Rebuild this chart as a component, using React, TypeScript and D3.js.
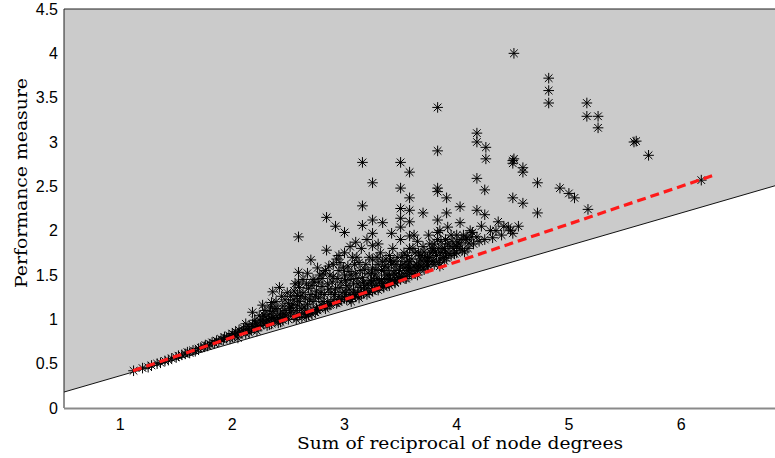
import React from "react";
import * as d3 from "d3";

const xTicks = [1, 2, 3, 4, 5, 6];
const yTicks = [0, 0.5, 1, 1.5, 2, 2.5, 3, 3.5, 4, 4.5];
const xLabel = "Sum of reciprocal of node degrees";
const yLabel = "Performance measure";

// lower bound of the feasible (gray) region
const boundary: [number, number][] = [[0.5, 0.18], [7.5, 2.75]];
// red dashed fitted line
const fitLine: [number, number][] = [[1.115, 0.42], [6.28, 2.62]];

// scatter: [sum of reciprocal degrees, performance]
const points: [number, number][] = [
  [1.12, 0.42], [1.2, 0.45], [1.25, 0.46], [1.28, 0.48], [1.33, 0.5], [1.36, 0.51], [1.4, 0.53], [1.43, 0.54],
  [1.46, 0.56], [1.5, 0.57], [1.52, 0.59], [1.55, 0.6], [1.58, 0.61], [1.6, 0.63], [1.62, 0.62], [1.65, 0.65],
  [1.67, 0.64], [1.7, 0.67], [1.72, 0.68], [1.75, 0.69], [1.76, 0.71], [1.78, 0.7], [1.8, 0.72], [1.82, 0.74],
  [1.84, 0.73], [1.86, 0.76], [1.88, 0.75], [1.9, 0.78], [1.92, 0.77], [1.93, 0.8], [1.95, 0.79], [1.97, 0.82],
  [1.98, 0.78], [2.0, 0.84], [2.0, 0.8], [2.02, 0.82], [2.03, 0.86], [2.05, 0.83], [2.06, 0.88], [2.08, 0.85],
  [2.1, 0.87], [2.1, 0.9], [2.12, 0.84], [2.14, 0.89], [2.15, 0.92], [2.17, 0.88], [2.18, 0.94], [2.18, 1.08],
  [2.2, 0.9], [2.21, 0.96], [2.23, 0.92], [2.25, 0.98], [2.25, 0.93], [2.27, 1.0], [2.27, 1.16], [2.28, 0.95],
  [2.3, 1.03], [2.3, 0.97], [2.32, 0.99], [2.33, 1.06], [2.35, 1.01], [2.35, 1.19], [2.36, 1.09], [2.36, 1.31],
  [2.38, 0.98], [2.4, 1.04], [2.4, 1.12], [2.42, 1.0], [2.42, 1.36], [2.43, 1.07], [2.45, 1.15], [2.45, 1.02],
  [2.47, 1.1], [2.48, 1.05], [2.5, 1.18], [2.5, 1.0], [2.52, 1.08], [2.53, 1.13], [2.55, 1.22], [2.55, 1.03],
  [2.57, 1.1], [2.58, 1.27], [2.58, 1.16], [2.59, 1.42], [2.59, 1.53], [2.59, 1.93], [2.6, 1.06], [2.6, 1.2],
  [2.62, 1.12], [2.63, 1.3], [2.65, 1.08], [2.65, 1.24], [2.67, 1.17], [2.67, 1.52], [2.68, 1.35], [2.7, 1.1],
  [2.7, 1.28], [2.7, 1.67], [2.72, 1.2], [2.73, 1.42], [2.75, 1.13], [2.75, 1.32], [2.77, 1.24], [2.78, 1.5],
  [2.8, 1.16], [2.8, 1.37], [2.82, 1.28], [2.83, 1.55], [2.84, 1.78], [2.84, 2.15], [2.85, 1.2], [2.85, 1.4],
  [2.86, 1.6], [2.88, 1.3], [2.9, 1.22], [2.9, 1.48], [2.92, 1.35], [2.92, 2.05], [2.93, 1.68], [2.95, 1.26],
  [2.95, 1.55], [2.97, 1.42], [2.98, 1.3], [3.0, 1.24], [3.0, 1.5], [3.0, 1.75], [3.0, 1.98], [3.02, 1.38],
  [3.03, 1.6], [3.05, 1.28], [3.05, 1.45], [3.07, 1.7], [3.08, 1.33], [3.1, 1.52], [3.1, 1.26], [3.1, 1.87],
  [3.12, 1.4], [3.13, 1.64], [3.15, 1.3], [3.15, 1.8], [3.16, 1.47], [3.16, 2.06], [3.16, 2.28], [3.16, 2.77],
  [3.18, 1.56], [3.2, 1.35], [3.2, 1.28], [3.22, 1.7], [3.23, 1.44], [3.25, 1.32], [3.25, 1.58], [3.25, 1.67],
  [3.25, 1.83], [3.25, 1.97], [3.25, 2.12], [3.25, 2.54], [3.27, 1.5], [3.28, 1.38], [3.3, 1.33], [3.3, 1.62],
  [3.32, 1.75], [3.33, 1.45], [3.34, 2.09], [3.35, 1.36], [3.35, 1.55], [3.37, 1.68], [3.38, 1.41], [3.4, 1.5],
  [3.4, 1.38], [3.42, 1.62], [3.42, 1.97], [3.43, 1.8], [3.45, 1.42], [3.45, 1.55], [3.47, 1.7], [3.48, 1.47],
  [3.5, 1.45], [3.5, 1.6], [3.5, 1.9], [3.5, 2.04], [3.5, 2.14], [3.5, 2.25], [3.5, 2.48], [3.5, 2.77],
  [3.52, 1.52], [3.53, 1.75], [3.55, 1.48], [3.55, 1.65], [3.57, 1.58], [3.58, 1.52], [3.58, 1.65], [3.58, 1.8],
  [3.58, 1.94], [3.58, 2.1], [3.58, 2.23], [3.58, 2.37], [3.58, 2.66], [3.6, 1.5], [3.62, 1.6], [3.63, 1.75],
  [3.65, 1.55], [3.65, 1.88], [3.67, 1.68], [3.68, 1.6], [3.7, 1.58], [3.7, 1.82], [3.7, 2.2], [3.72, 1.7],
  [3.73, 1.65], [3.75, 1.6], [3.75, 1.95], [3.77, 1.75], [3.78, 1.65], [3.79, 1.78], [3.8, 1.62], [3.8, 1.85],
  [3.82, 1.72], [3.83, 1.9], [3.83, 1.98], [3.83, 2.12], [3.83, 2.44], [3.83, 2.48], [3.83, 2.9], [3.83, 3.39],
  [3.85, 1.68], [3.85, 2.0], [3.87, 1.8], [3.88, 1.7], [3.9, 1.75], [3.9, 1.9], [3.91, 1.69], [3.91, 2.2],
  [3.91, 2.37], [3.92, 1.85], [3.92, 2.04], [3.95, 1.72], [3.95, 1.95], [3.97, 1.8], [4.0, 1.75], [4.0, 1.95],
  [4.01, 1.87], [4.02, 1.85], [4.03, 1.8], [4.03, 2.09], [4.03, 2.27], [4.05, 1.78], [4.08, 1.9], [4.09, 1.92],
  [4.1, 1.8], [4.12, 2.0], [4.15, 1.85], [4.18, 1.93], [4.18, 2.23], [4.18, 2.59], [4.18, 3.0], [4.18, 3.1],
  [4.2, 1.88], [4.22, 2.05], [4.25, 1.9], [4.25, 2.18], [4.25, 2.46], [4.26, 2.81], [4.26, 2.94], [4.3, 2.0],
  [4.32, 1.92], [4.35, 2.0], [4.37, 2.1], [4.4, 1.95], [4.42, 2.05], [4.46, 2.04], [4.48, 2.0], [4.5, 1.97],
  [4.5, 2.37], [4.5, 2.76], [4.5, 2.79], [4.51, 2.81], [4.51, 4.0], [4.55, 2.05], [4.59, 2.31], [4.59, 2.66],
  [4.59, 2.71], [4.72, 2.2], [4.72, 2.54], [4.82, 3.44], [4.82, 3.58], [4.82, 3.72], [4.92, 2.48], [5.0, 2.42],
  [5.05, 2.37], [5.16, 3.29], [5.16, 3.44], [5.17, 2.24], [5.26, 3.16], [5.26, 3.29], [5.58, 3.0], [5.6, 3.01],
  [5.71, 2.85], [6.18, 2.57],
  [2.05, 0.79], [2.12, 0.95], [2.2, 0.99], [2.22, 0.87], [2.28, 1.05], [2.33, 0.94], [2.38, 1.12], [2.43, 0.97],
  [2.47, 1.22], [2.52, 1.26], [2.55, 1.32], [2.6, 1.36], [2.62, 1.02], [2.66, 1.4], [2.68, 1.05], [2.72, 1.45],
  [2.74, 1.08], [2.76, 1.58], [2.78, 1.12], [2.8, 1.46], [2.82, 1.15], [2.87, 1.5], [2.88, 1.17], [2.9, 1.62],
  [2.94, 1.2], [2.96, 1.64], [3.02, 1.22], [3.04, 1.54], [3.07, 1.25], [3.09, 1.62], [3.12, 1.3], [3.14, 1.55],
  [3.18, 1.38], [3.21, 1.52], [3.24, 1.4], [3.28, 1.56], [3.31, 1.42], [3.34, 1.65], [3.38, 1.5], [3.41, 1.45],
  [3.44, 1.65], [3.46, 1.5], [3.52, 1.62], [3.56, 1.55], [3.6, 1.68], [3.64, 1.62], [3.68, 1.72], [3.74, 1.7],
  [3.78, 1.8], [3.86, 1.75], [3.94, 1.82], [4.06, 1.95], [4.14, 1.98], [3.3, 1.85], [3.4, 1.72], [3.62, 1.95],
  [3.05, 1.82], [2.95, 1.72], [3.2, 1.9],
  [2.24, 1.04], [2.29, 1.1], [2.31, 0.93], [2.34, 1.14], [2.37, 1.02], [2.39, 1.2], [2.41, 0.96], [2.44, 1.26],
  [2.46, 1.06], [2.49, 1.3], [2.51, 1.12], [2.54, 1.17], [2.56, 1.4], [2.57, 1.0], [2.61, 1.26], [2.63, 1.45],
  [2.64, 1.14], [2.66, 1.03], [2.69, 1.22], [2.71, 1.38], [2.71, 1.06], [2.74, 1.26], [2.76, 1.1], [2.77, 1.42],
  [2.79, 1.3], [2.81, 1.2], [2.81, 1.52], [2.83, 1.12], [2.86, 1.34], [2.87, 1.16], [2.89, 1.42], [2.91, 1.28],
  [2.93, 1.18], [2.94, 1.46], [2.96, 1.36], [2.97, 1.22], [2.99, 1.58], [3.01, 1.44], [3.01, 1.3], [3.04, 1.34],
  [3.06, 1.2], [3.06, 1.5], [3.08, 1.4], [3.09, 1.28], [3.11, 1.46], [3.11, 1.7], [3.13, 1.24], [3.14, 1.36],
  [3.17, 1.42], [3.17, 1.3], [3.19, 1.62], [3.21, 1.4], [3.22, 1.3], [3.24, 1.52], [3.26, 1.44], [3.27, 1.34],
  [3.29, 1.46], [3.29, 1.7], [3.31, 1.36], [3.33, 1.55], [3.34, 1.4], [3.36, 1.46], [3.36, 1.6], [3.39, 1.4],
  [3.39, 1.58], [3.41, 1.66], [3.43, 1.44], [3.44, 1.52], [3.46, 1.62], [3.47, 1.44], [3.49, 1.55], [3.51, 1.48],
  [3.51, 1.7], [3.54, 1.58], [3.54, 1.46], [3.56, 1.72], [3.59, 1.58], [3.61, 1.55], [3.61, 1.8], [3.63, 1.52],
  [3.66, 1.6], [3.66, 1.75], [3.69, 1.66], [3.71, 1.56], [3.71, 1.76], [3.74, 1.62], [3.76, 1.7], [3.76, 1.85],
  [3.79, 1.66], [3.81, 1.76], [3.84, 1.64], [3.84, 1.8], [3.86, 1.88], [3.89, 1.66], [3.89, 1.8], [3.93, 1.74],
  [3.96, 1.88], [3.98, 1.74], [4.0, 1.82], [4.04, 1.9], [4.07, 1.76], [4.11, 1.86], [4.13, 1.93],
  // points touching / just under the fitted line
  [2.45, 0.99], [2.65, 1.06], [2.85, 1.15], [3.05, 1.23], [3.25, 1.32], [3.45, 1.41], [3.65, 1.5], [3.85, 1.6],
  [2.15, 0.85], [2.35, 0.95], [2.55, 1.04], [2.75, 1.11], [2.95, 1.2], [3.15, 1.28], [3.35, 1.37], [3.55, 1.46],
];

const W = 775;
const H = 458;

export default function App() {
  const x = d3.scaleLinear().domain([0.5, 7.5]).range([64, 64 + 7 * 112.2]);
  const y = d3.scaleLinear().domain([0, 4.5]).range([408, 9]);
  const line = d3.line<[number, number]>().x((d) => x(d[0])).y((d) => y(d[1]));

  const [b0, b1] = boundary;
  const fillPts: [number, number][] = [[b0[0], 4.5], [b0[0], b0[1]], [b1[0], b1[1]], [b1[0], 4.5]];
  const fillPath = line(fillPts) + "Z";

  const r = 5.3;
  const dd = 3.8;
  const markerPath = points
    .map(([px, py]) => {
      const cx = x(px);
      const cy = y(py);
      return `M${cx - r},${cy}H${cx + r}M${cx},${cy - r}V${cy + r}M${cx - dd},${cy - dd}L${cx + dd},${cy + dd}M${cx - dd},${cy + dd}L${cx + dd},${cy - dd}`;
    })
    .join("");

  return (
    <svg width={W} height={H} style={{ position: "absolute", left: 0, top: 0, background: "#fff" }}>
      <defs>
        <clipPath id="plotclip">
          <rect x={64} y={9} width={W - 64} height={399} />
        </clipPath>
      </defs>
      <g clipPath="url(#plotclip)">
        <path d={fillPath} fill="#cbcbcb" stroke="none" />
        <path d={line(boundary) ?? ""} fill="none" stroke="#111" strokeWidth={1} />
        <path d={markerPath} fill="none" stroke="#000" strokeWidth={1} />
        <path
          d={line(fitLine) ?? ""}
          fill="none"
          stroke="#ff1a1a"
          strokeWidth={3.2}
          strokeDasharray="9,5"
        />
      </g>
      <line x1={64} y1={9} x2={W} y2={9} stroke="#222" strokeWidth={1} />
      <line x1={64} y1={9} x2={64} y2={408} stroke="#222" strokeWidth={1} />
      <line x1={64} y1={408.5} x2={W} y2={408.5} stroke="#8a8a8a" strokeWidth={2} />
      {yTicks.map((t) => (
        <text
          key={"y" + t}
          x={58}
          y={y(t)}
          textAnchor="end"
          dominantBaseline="central"
          fontFamily="Liberation Sans, Arial, sans-serif"
          fontSize={16}
          fill="#000"
        >
          {t}
        </text>
      ))}
      {xTicks.map((t) => (
        <text
          key={"x" + t}
          x={x(t)}
          y={430}
          textAnchor="middle"
          fontFamily="Liberation Sans, Arial, sans-serif"
          fontSize={16}
          fill="#000"
        >
          {t}
        </text>
      ))}
      <text
        x={460}
        y={449}
        textAnchor="middle"
        fontFamily="DejaVu Serif, serif"
        fontSize={16}
        textLength={326}
        lengthAdjust="spacingAndGlyphs"
        fill="#000"
      >
        {xLabel}
      </text>
      <text
        transform={`translate(27,183) rotate(-90)`}
        textAnchor="middle"
        fontFamily="DejaVu Serif, serif"
        fontSize={16}
        textLength={210}
        lengthAdjust="spacingAndGlyphs"
        fill="#000"
      >
        {yLabel}
      </text>
    </svg>
  );
}
